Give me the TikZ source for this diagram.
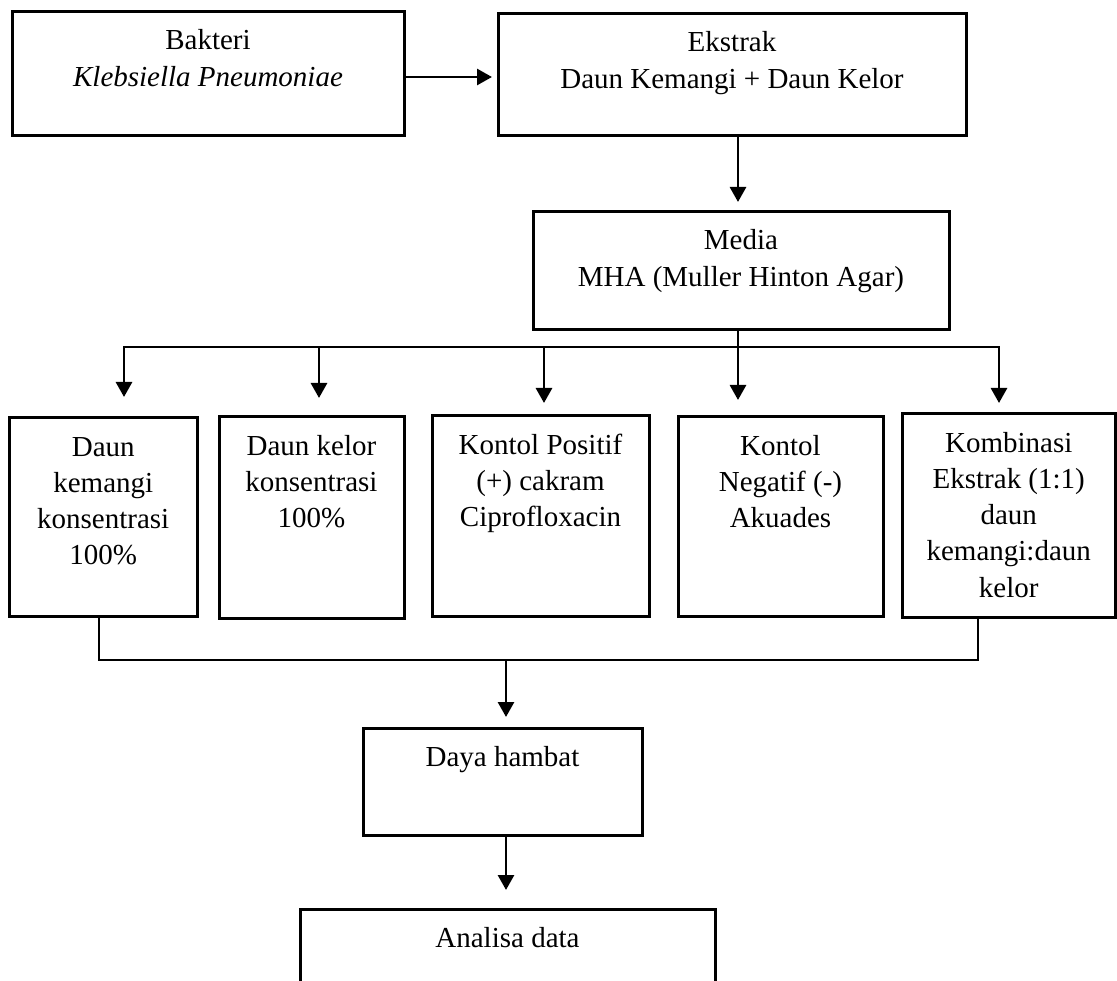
\documentclass[tikz,border=0pt]{standalone}
\usepackage{fontspec}
\setmainfont{Liberation Serif}
\usetikzlibrary{arrows.meta,calc}
\newcommand{\bxt}[3]{\parbox[c][#2][t]{#1}{\centering\rule{0pt}{38pt}#3\par}}
\begin{document}
\begin{tikzpicture}[x=1pt,y=-1pt,
  bx/.style={draw, line width=3pt, inner sep=0pt, outer sep=0pt, rectangle,
             font=\fontsize{29}{36.3}\selectfont},
  ln/.style={line width=2.8pt},
  arr/.style={ln, -{Triangle[length=15pt,width=16pt]}}]
\useasboundingbox (0,0) rectangle (1117,981);
\clip (0,0) rectangle (1117,981);

% top row
\node[bx] (bak) at (208,74) {\bxt{392pt}{124pt}{Bakteri\\\textit{Klebsiella Pneumoniae}}};
\node[bx] (eks) at (732,75) {\bxt{468pt}{122pt}{Ekstrak\\Daun Kemangi + Daun Kelor}};
\node[bx] (med) at (741,271) {\bxt{416pt}{118pt}{Media\\MHA (Muller Hinton Agar)}};

% middle row
\node[bx] (b1) at (103.25,517) {\bxt{187.5pt}{198pt}{Daun\\kemangi\\konsentrasi\\100\%}};
\node[bx] (b2) at (311.5,517.5) {\bxt{185pt}{201pt}{Daun kelor\\konsentrasi\\100\%}};
\node[bx] (b3) at (540.5,516) {\bxt{217pt}{200pt}{Kontol Positif\\(+) cakram\\Ciprofloxacin}};
\node[bx] (b4) at (780.5,516.5) {\bxt{205pt}{199pt}{Kontol\\Negatif (-)\\Akuades}};
\node[bx] (b5) at (1008.75,515.5) {\bxt{213.5pt}{203pt}{Kombinasi\\Ekstrak (1:1)\\daun\\kemangi:daun\\kelor}};

% bottom
\node[bx] (daya) at (502.5,781.5) {\bxt{279pt}{107pt}{Daya hambat}};
\node[bx] (ana) at (507.5,955) {\bxt{415pt}{92pt}{Analisa data}};

% connectors
\draw[arr, shorten >=6pt] ([yshift=-3pt]bak.east) -- ([yshift=-3pt]bak.east -| eks.west);
\draw[arr, shorten >=10pt] ([xshift=6pt]eks.south) -- ([xshift=6pt]eks.south |- med.north);

\coordinate (bus1) at (124,347);
\coordinate (bus2) at (319,347);
\coordinate (bus3) at (544,347);
\coordinate (bus4) at (738,347);
\coordinate (bus5) at (999,347);
\draw[ln] ([xshift=-3pt]med.south) -- ([xshift=-3pt]med.south |- bus1);
\draw[ln, line cap=rect] (bus1) -- (bus5);
\draw[arr, shorten >=21pt] (bus1) -- (bus1 |- b1.north);
\draw[arr, shorten >=19pt] (bus2) -- (bus2 |- b2.north);
\draw[arr, shorten >=13pt] (bus3) -- (bus3 |- b3.north);
\draw[arr, shorten >=17pt] (bus4) -- (bus4 |- b4.north);
\draw[arr, shorten >=11pt] (bus5) -- (bus5 |- b5.north);

\coordinate (lowL) at (99,660);
\coordinate (lowR) at (978,660);
\coordinate (lowM) at (506,660);
\draw[ln] (lowL |- b1.south) -- (lowL) -- (lowR) -- (lowR |- b5.south);
\draw[arr, shorten >=11pt] (lowM) -- (lowM |- daya.north);
\draw[arr, shorten >=19pt] ([xshift=3.5pt]daya.south) -- ([xshift=3.5pt]daya.south |- ana.north);
\end{tikzpicture}
\end{document}
